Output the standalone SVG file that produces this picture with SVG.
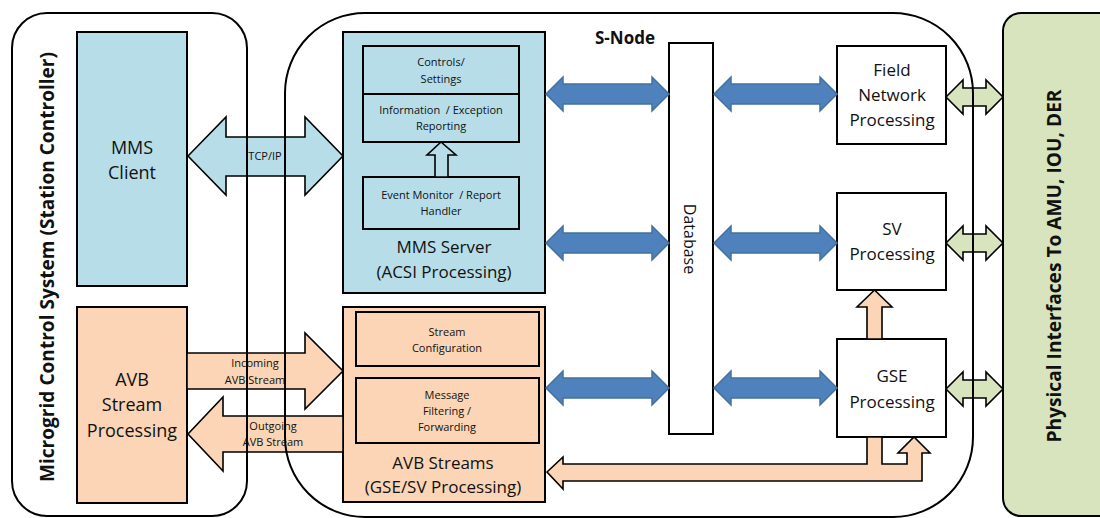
<svg xmlns="http://www.w3.org/2000/svg" xmlns:xlink="http://www.w3.org/1999/xlink" width="1100" height="518" viewBox="0 0 1100 518">
  <style>
    text { font-family: "Open Sans", "Liberation Sans", sans-serif; fill: #111; text-anchor: middle; }
    .frame { fill: none; stroke: #000; stroke-width: 2; }
    .box { stroke: #000; stroke-width: 2; }
    .blue { fill: #b7dde8; }
    .peach { fill: #fbd5b5; }
    .white { fill: #fff; }
    .green { fill: #d7e4bd; }
    .arrow { stroke: #000; stroke-width: 1.6; stroke-linejoin: miter; }
    .bus { fill: #4f81bd; stroke: #41719c; stroke-width: 1.5; }
    .lg { font-size: 17px; }
    .md { font-size: 18px; }
    .sm { font-size: 11px; }
    .title { font-size: 20px; font-weight: bold; }
  </style>
  <defs>
    <!-- blue two-way data bus, 123 px long, centred on y=0 -->
    <path id="bus" class="bus" d="M0,0 L17,-17 L17,-10 L106,-10 L106,-17 L123,0 L106,17 L106,10 L17,10 L17,17 Z"/>
    <!-- green two-way link to the physical interfaces, 57 px long -->
    <path id="phy" class="arrow green" d="M0,0 L17,-17 L17,-9 L40,-9 L40,-17 L57,0 L40,17 L40,9 L17,9 L17,17 Z"/>
  </defs>

  <rect width="1100" height="518" fill="#fff"/>

  <!-- container backgrounds -->
  <rect x="12" y="13" width="235" height="503" rx="35" fill="#fff"/>
  <rect x="285" y="13" width="688" height="504" rx="80" fill="#fff"/>

  <g id="physical-interfaces">
    <rect x="1003" y="13" width="120" height="503" rx="18" class="box green"/>
    <text class="title" transform="translate(1061,266) rotate(-90)" textLength="353" lengthAdjust="spacingAndGlyphs">Physical Interfaces To AMU, IOU, DER</text>
  </g>

  <g id="mms-client">
    <rect x="77" y="32" width="110" height="254" class="box blue"/>
    <text class="md" x="132" y="154">MMS</text>
    <text class="md" x="132" y="179">Client</text>
  </g>

  <g id="avb-stream-processing">
    <rect x="77" y="307" width="110" height="196" class="box peach"/>
    <text class="md" x="132" y="386">AVB</text>
    <text class="md" x="132" y="411">Stream</text>
    <text class="md" x="132" y="437">Processing</text>
  </g>

  <g id="mms-server">
    <rect x="343" y="32" width="202" height="261" class="box blue"/>
    <rect x="363" y="46" width="156" height="48" class="box blue"/>
    <rect x="363" y="94" width="156" height="48" class="box blue"/>
    <rect x="363" y="177" width="156" height="52" class="box blue"/>
    <path class="arrow blue" d="M441,142 L456,155 L448,155 L448,177 L435,177 L435,155 L427,155 Z"/>
    <text class="sm" x="441" y="66">Controls/</text>
    <text class="sm" x="441" y="83">Settings</text>
    <text class="sm" x="441" y="114" xml:space="preserve">Information  / Exception</text>
    <text class="sm" x="441" y="130">Reporting</text>
    <text class="sm" x="441" y="199" xml:space="preserve">Event Monitor  / Report</text>
    <text class="sm" x="441" y="215">Handler</text>
    <text class="lg" x="444" y="253">MMS Server</text>
    <text class="lg" x="444" y="278">(ACSI Processing)</text>
  </g>

  <g id="avb-streams">
    <rect x="343" y="307" width="202" height="195" class="box peach"/>
    <rect x="356" y="312" width="183" height="54" class="box peach"/>
    <rect x="356" y="378" width="183" height="65" class="box peach"/>
    <text class="sm" x="447" y="336">Stream</text>
    <text class="sm" x="447" y="352">Configuration</text>
    <text class="sm" x="447" y="399">Message</text>
    <text class="sm" x="447" y="415">Filtering /</text>
    <text class="sm" x="447" y="431">Forwarding</text>
    <text class="lg" x="443" y="469">AVB Streams</text>
    <text class="lg" x="443" y="493">(GSE/SV Processing)</text>
  </g>

  <g id="database">
    <rect x="669" y="43" width="44" height="391" class="box white"/>
    <text transform="translate(684,239) rotate(90)" style="font-size:16px">Database</text>
  </g>

  <g id="field-network-processing">
    <rect x="837" y="46" width="109" height="98" class="box white"/>
    <text class="lg" x="892" y="76">Field</text>
    <text class="lg" x="892" y="101">Network</text>
    <text class="lg" x="892" y="126">Processing</text>
  </g>

  <g id="sv-processing">
    <rect x="837" y="193" width="109" height="97" class="box white"/>
    <text class="lg" x="892" y="235">SV</text>
    <text class="lg" x="892" y="260">Processing</text>
  </g>

  <g id="gse-processing">
    <rect x="837" y="339" width="109" height="98" class="box white"/>
    <text class="lg" x="892" y="382">GSE</text>
    <text class="lg" x="892" y="408">Processing</text>
  </g>

  <g id="connectors">
    <!-- MMS client <-> server -->
    <path class="arrow blue" d="M188,156 L226,117 L226,137 L305,137 L305,117 L343,156 L305,195 L305,176 L226,176 L226,195 Z"/>
    <text class="sm" x="265" y="160">TCP/IP</text>

    <!-- AVB streams in / out -->
    <path class="arrow peach" d="M187,353 L305,353 L305,333 L343,371 L305,409 L305,389 L187,389 Z"/>
    <text class="sm" x="255" y="367">Incoming</text>
    <text class="sm" x="255" y="384">AVB Stream</text>
    <path class="arrow peach" d="M343,416 L223,416 L223,397 L188,434 L223,471 L223,452 L343,452 Z"/>
    <text class="sm" x="273" y="430">Outgoing</text>
    <text class="sm" x="273" y="446">AVB Stream</text>

    <!-- database buses -->
    <use xlink:href="#bus" x="546" y="94"/>
    <use xlink:href="#bus" x="546" y="243"/>
    <use xlink:href="#bus" x="546" y="388"/>
    <use xlink:href="#bus" x="714" y="94"/>
    <use xlink:href="#bus" x="714" y="243"/>
    <use xlink:href="#bus" x="714" y="388"/>

    <!-- GSE -> SV -->
    <path class="arrow peach" d="M874.5,290 L892,307 L882,307 L882,339 L867,339 L867,307 L857,307 Z"/>

    <!-- GSE <-> AVB streams return path -->
    <path class="arrow peach" d="M547,472 L563,457 L563,464 L867,464 L867,437 L882,437 L882,464 L907,464 L907,453 L898,453 L914,437 L930,453 L922,453 L922,481 L563,481 L563,489 Z"/>

    <!-- physical interface links -->
    <use xlink:href="#phy" x="946" y="97"/>
    <use xlink:href="#phy" x="946" y="243"/>
    <use xlink:href="#phy" x="946" y="389"/>
  </g>

  <!-- container outlines, drawn over the links that cross them -->
  <g id="microgrid-control-system">
    <rect x="12" y="13" width="235" height="503" rx="35" class="frame"/>
    <text class="title" transform="translate(54,267) rotate(-90)" textLength="430" lengthAdjust="spacingAndGlyphs">Microgrid Control System (Station Controller)</text>
  </g>
  <g id="s-node">
    <rect x="285" y="13" width="688" height="504" rx="80" class="frame"/>
    <text x="625" y="44" style="font-size:17px;font-weight:bold">S-Node</text>
  </g>
</svg>
